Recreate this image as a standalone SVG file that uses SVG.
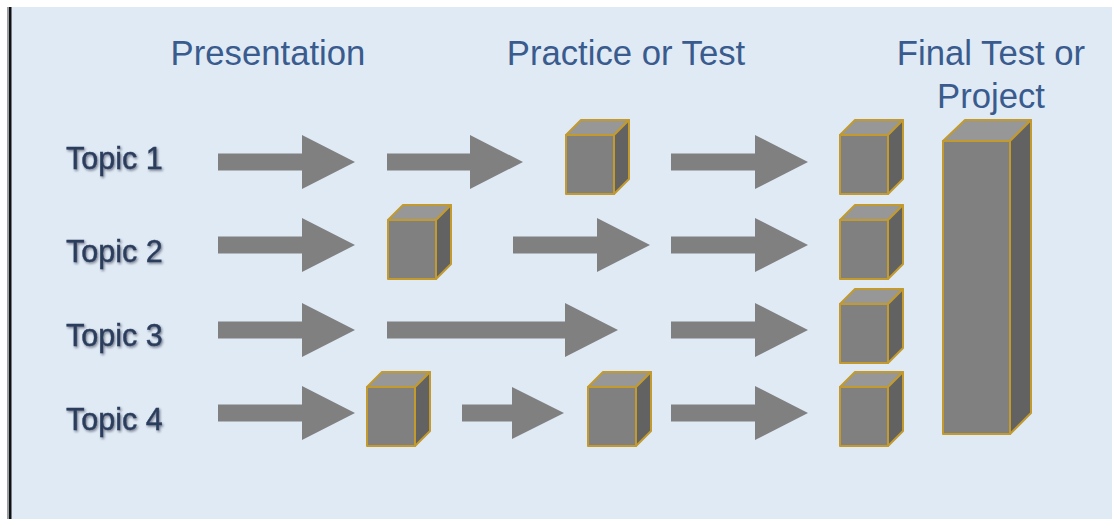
<svg xmlns="http://www.w3.org/2000/svg" xmlns:xlink="http://www.w3.org/1999/xlink" width="1112" height="519" viewBox="0 0 1112 519">
<style>
.head{font-family:"Liberation Sans",Arial,sans-serif;font-size:34.7px;fill:#3A5B8D;text-anchor:middle}
.topic{font-family:"Liberation Sans",Arial,sans-serif;font-size:30.5px;fill:#2C3D5C;stroke:#2C3D5C;stroke-width:0.4;filter:url(#sh)}
.arrow{fill:#808080}
.ftop{fill:#979797;stroke:#C29A2E;stroke-width:2;stroke-linejoin:round}
.ffront{fill:#808080;stroke:#C29A2E;stroke-width:2;stroke-linejoin:round}
.fside{fill:#626262;stroke:#C29A2E;stroke-width:2;stroke-linejoin:round}
</style>
<defs>
<filter id="sh" x="-10%" y="-20%" width="130%" height="150%">
<feDropShadow dx="1.2" dy="1.5" stdDeviation="0.8" flood-color="#1a2435" flood-opacity="0.55"/>
</filter>
<g id="cube">
<polygon class="ftop" points="0,15 15,0 63,0 48,15"/>
<polygon class="fside" points="48,15 63,0 63,59 48,74"/>
<rect class="ffront" x="0" y="15" width="48" height="59"/>
</g>
</defs>
<rect x="0" y="0" width="1112" height="519" fill="#FFFFFF"/>
<rect x="11" y="7" width="1101" height="512" fill="#DFEAF5"/>
<rect x="7" y="7" width="2" height="512" fill="#9A9FA6"/>
<rect x="9" y="7" width="2.5" height="512" fill="#111111"/>

<g id="headings">
<text class="head" x="268" y="65">Presentation</text>
<text class="head" x="626" y="65">Practice or Test</text>
<text class="head" x="991" y="65">Final Test or</text>
<text class="head" x="991" y="108">Project</text>
</g>

<g id="topics">
<text id="topic1" class="topic" x="66" y="169">Topic 1</text>
<text id="topic2" class="topic" x="66" y="262">Topic 2</text>
<text id="topic3" class="topic" x="66" y="346">Topic 3</text>
<text id="topic4" class="topic" x="66" y="430">Topic 4</text>
</g>

<g id="connectors">
<path class="arrow" d="M218,153.5 H302 V135 L355,162 L302,189 V170.5 H218 Z"/>
<path class="arrow" d="M387,153.5 H470 V135 L523,162 L470,189 V170.5 H387 Z"/>
<path class="arrow" d="M671,153.5 H755 V135 L808,162 L755,189 V170.5 H671 Z"/>
<path class="arrow" d="M218,236.5 H302 V218 L355,245 L302,272 V253.5 H218 Z"/>
<path class="arrow" d="M513,236.5 H597 V218 L650,245 L597,272 V253.5 H513 Z"/>
<path class="arrow" d="M671,236.5 H755 V218 L808,245 L755,272 V253.5 H671 Z"/>
<path class="arrow" d="M218,321.5 H302 V303 L355,330 L302,357 V338.5 H218 Z"/>
<path class="arrow" d="M387,321.5 H565 V303 L618,330 L565,357 V338.5 H387 Z"/>
<path class="arrow" d="M671,321.5 H755 V303 L808,330 L755,357 V338.5 H671 Z"/>
<path class="arrow" d="M218,404.5 H302 V386 L355,413 L302,440 V421.5 H218 Z"/>
<path class="arrow" d="M462,404.5 H512 V387 L564,413 L512,439 V421.5 H462 Z"/>
<path class="arrow" d="M671,404.5 H755 V386 L808,413 L755,440 V421.5 H671 Z"/>
</g>

<g id="cube-r1-practice"><use xlink:href="#cube" href="#cube" x="566" y="120"/></g>
<g id="cube-r1-final"><use xlink:href="#cube" href="#cube" x="840" y="120"/></g>
<g id="cube-r2-presentation"><use xlink:href="#cube" href="#cube" x="388" y="205"/></g>
<g id="cube-r2-final"><use xlink:href="#cube" href="#cube" x="840" y="205"/></g>
<g id="cube-r3-final"><use xlink:href="#cube" href="#cube" x="840" y="289"/></g>
<g id="cube-r4-presentation"><use xlink:href="#cube" href="#cube" x="367" y="372"/></g>
<g id="cube-r4-practice"><use xlink:href="#cube" href="#cube" x="588" y="372"/></g>
<g id="cube-r4-final"><use xlink:href="#cube" href="#cube" x="840" y="372"/></g>

<g id="final-project-box">
<polygon class="ftop" points="943,141 965,120 1031,120 1010,141"/>
<polygon class="fside" points="1010,141 1031,120 1031,413 1010,434"/>
<rect class="ffront" x="943" y="141" width="67" height="293"/>
</g>
</svg>
